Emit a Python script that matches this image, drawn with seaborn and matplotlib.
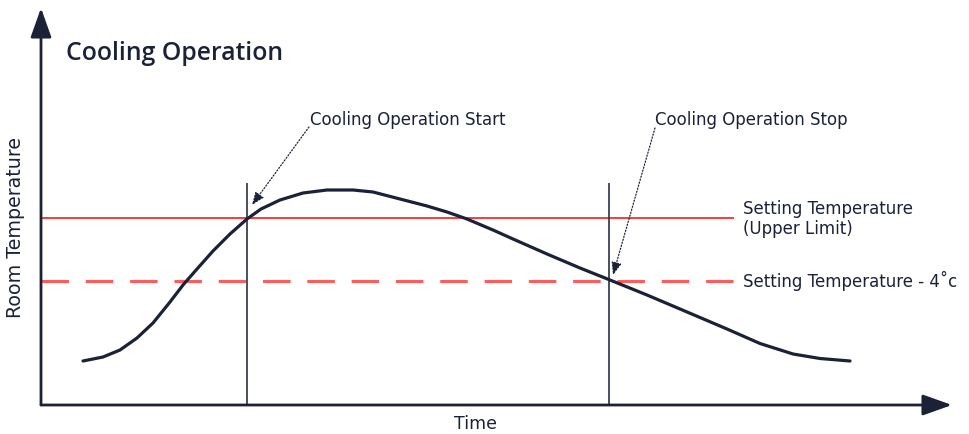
import matplotlib
matplotlib.use("Agg")
import matplotlib.pyplot as plt
import seaborn as sns

# Schematic room temperature over time (arbitrary units)
time = [4.2, 6.2, 7.9, 9.6, 11.2, 12.9, 14.2, 15.6, 17.2, 18.9, 20.6, 22.0,
        23.9, 26.2, 28.6, 31.2, 33.2, 35.9, 38.6, 40.6, 42.6, 45.2, 47.2, 50.6,
        53.9, 56.9, 60.6, 63.9, 68.6, 71.9, 75.2, 77.9, 80.9]
temperature = [4.4, 4.8, 5.5, 6.7, 8.2, 10.3, 12.0, 13.6, 15.4, 17.1, 18.6, 19.6,
               20.5, 21.2, 21.5, 21.5, 21.3, 20.6, 19.9, 19.3, 18.6, 17.5, 16.6, 15.1,
               13.7, 12.5, 11.0, 9.6, 7.6, 6.15, 5.1, 4.65, 4.4]

upper_limit = 18.7
lower_limit = 12.4
start_time = 20.6
stop_time = 56.8
marker_top = 22.2
setting_end = 69.3

title = "Cooling Operation"
x_label = "Time"
y_label = "Room Temperature"
start_label = "Cooling Operation Start"
stop_label = "Cooling Operation Stop"
upper_label = ["Setting Temperature", "(Upper Limit)"]
lower_label = "Setting Temperature - 4\u02dac"

navy = "#1b2238"
red = "#ff2a2a"
light_red = "#ff5c5c"

sns.set_style("white")
plt.rcParams["font.family"] = ["DejaVu Sans"]

fig = plt.figure(figsize=(9.69, 4.34), dpi=100)
ax = fig.add_axes([41 / 969, 29 / 434, 911 / 969, 397 / 434])
ax.set_xlim(0, 91.1)
ax.set_ylim(0, 39.7)
for s in ax.spines.values():
    s.set_visible(False)
ax.set_xticks([])
ax.set_yticks([])

# axis arrows
axis_arrow = dict(arrowstyle="-|>,head_length=0.9,head_width=0.32",
                  color=navy, lw=2, mutation_scale=20, shrinkA=0, shrinkB=0)
ax.annotate("", xy=(0, 1), xytext=(0, 0), xycoords="axes fraction", arrowprops=axis_arrow)
ax.annotate("", xy=(1, 0), xytext=(0, 0), xycoords="axes fraction", arrowprops=axis_arrow)

# setting temperature lines
ax.hlines(upper_limit, 0, setting_end, color=red, lw=1.3)
ax.hlines(lower_limit, 0, setting_end, color=light_red, lw=2.2, linestyles=(0, (9, 5.5)))

# start / stop markers
ax.vlines([start_time, stop_time], 0, marker_top, color="#2a3146", lw=1.2)

# temperature curve
sns.lineplot(x=time, y=temperature, ax=ax, color=navy, lw=2.3)

# texts
ax.text(2.5, 34.5, title, fontsize=17.8, fontweight="semibold", color=navy,
        family=["Open Sans", "DejaVu Sans"])
ax.text(43.4, -1.9, x_label, fontsize=12.5, color=navy, ha="center", va="center")
ax.text(-2.5, 17.8, y_label, fontsize=13.7, color=navy, ha="center", va="center",
        rotation=90)
ax.text(70.2, 19.1, upper_label[0], fontsize=12, color=navy)
ax.text(70.2, 17.1, upper_label[1], fontsize=12, color=navy)
ax.text(70.2, 11.8, lower_label, fontsize=12, color=navy)

ax.text(26.9, 28.0, start_label, fontsize=12, color=navy)
ax.text(61.4, 28.0, stop_label, fontsize=12, color=navy)

pointer = dict(arrowstyle="-|>,head_length=0.55,head_width=0.22", color=navy,
               lw=0.9, linestyle=(0, (1, 1.5)), mutation_scale=14, shrinkA=0, shrinkB=0)
ax.annotate("", xy=(21.1, 20.0), xytext=(26.8, 27.8), arrowprops=pointer)
ax.annotate("", xy=(57.2, 13.0), xytext=(61.4, 27.7), arrowprops=pointer)

fig.savefig("out.png", dpi=100)
